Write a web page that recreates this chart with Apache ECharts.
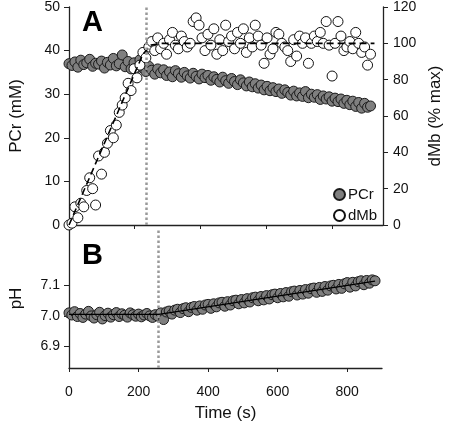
<!DOCTYPE html>
<html><head><meta charset="utf-8">
<script src="https://cdn.jsdelivr.net/npm/echarts@6/dist/echarts.min.js"></script>
<style>html,body{margin:0;padding:0;background:#fff}#c{width:455px;height:430px}</style>
</head><body><div id="c"></div>
<script>
// ---- Panel A data (time in s) ----
var topTime = [0,9,18,27,36,45,54,63,72,81,90,99,108,117,126,135,144,153,162,171,180,189,198,207,216,
225,234,243,252,261,270,279,288,297,306,315,324,333,342,351,360,369,378,387,396,405,414,423,432,441,
450,459,468,477,486,495,504,513,522,531,540,549,558,567,576,585,594,603,612,621,630,639,648,657,666,
675,684,693,702,711,720,729,738,747,756,765,774,783,792,801,810,819,828,837,846,855,864,873,882,891,
900,909,918];
var pcrValue = [37.0,36.6,37.4,36.2,37.8,36.8,37.2,38.0,36.4,37.1,36.9,37.6,36.0,37.3,36.7,38.2,36.5,37.0,39.0,36.3,37.5,35.8,37.2,36.1,37.9,
36.0,35.2,36.4,35.5,34.6,35.8,34.9,35.6,34.3,35.1,34.0,35.4,34.7,33.9,35.0,34.2,33.7,34.8,34.1,33.5,34.6,33.8,34.3,33.2,34.0,
33.4,32.8,33.9,33.1,32.5,33.6,32.9,32.2,33.3,32.6,31.9,32.8,31.7,32.4,31.4,32.1,31.0,31.8,30.8,31.5,30.6,31.2,30.2,31.0,30.4,
29.8,30.7,29.6,30.3,29.5,30.6,29.2,30.0,29.3,29.9,28.8,29.6,28.9,29.4,28.4,29.1,28.3,28.9,27.9,28.6,27.6,28.4,27.2,28.1,26.8,
27.9,27.0,27.3];
var dmbValue = [0,1,10,4,12,10,19,26,20,11,38,28,40,45,52,48,55,62,66,70,78,74,86,81,88,
95,92,98,101,96,103,97,100,94,102,106,99,97,104,101,98,100,112,114,110,103,96,105,99,108,
94,102,96,110,101,104,97,106,100,108,95,103,98,110,104,99,89,103,94,97,106,105,100,98,96,
90,102,93,104,100,103,89,100,104,101,106,100,112,99,82,100,112,104,96,98,101,97,106,100,95,
98,88,94];
var dmbFitTime = [0,225,250,280,930];
var dmbFitValue = [0,94,99,100,100];
var pcrFitTime = [0,225,400,600,800,918];
var pcrFitValue = [37,36.8,34.3,31.6,29,27.4];
var topMarker = 234;
var topTicks = [200,400,600,800];
// ---- Panel B data ----
var phTime = [0,8,16,24,32,40,48,56,64,72,80,88,96,104,112,120,128,136,144,152,160,168,176,184,192,200,208,216,224,232,240,248,256,
264,272,280,288,296,304,312,320,328,336,344,352,360,368,376,384,392,400,408,416,424,432,440,448,456,464,472,480,488,496,504,512,520,
528,536,544,552,560,568,576,584,592,600,608,616,624,632,640,648,656,664,672,680,688,696,704,712,720,728,736,744,752,760,768,776,784,
792,800,808,816,824,832,840,848,856,864,872,880];
var phValue = [7.010,7.003,7.014,6.998,7.008,6.995,7.006,7.015,7.000,6.993,7.004,7.012,6.990,7.001,7.009,6.996,7.004,7.011,6.998,7.007,7.002,6.996,7.010,7.004,6.999,7.006,6.997,7.003,7.008,7.000,6.995,7.004,6.999,
7.010,6.988,7.013,7.016,7.006,7.019,7.022,7.011,7.024,7.027,
7.014,7.028,7.031,7.019,7.033,7.022,7.036,7.038,7.025,7.040,
7.030,7.043,7.045,7.032,7.047,7.036,7.050,7.052,7.040,7.054,
7.043,7.057,7.046,7.060,7.062,7.050,7.064,7.053,7.067,7.056,
7.070,7.072,7.060,7.074,7.063,7.077,7.065,7.080,7.082,7.069,
7.084,7.072,7.087,7.075,7.090,7.092,7.078,7.094,7.081,7.097,
7.085,7.099,7.101,7.089,7.104,7.091,7.106,7.110,7.095,7.111,
7.099,7.113,7.116,7.103,7.117,7.108,7.119,7.116];
var phFitTime = [0,258,880];
var phFitValue = [7.005,7.005,7.115];
var bottomMarker = 258;
var phTicks = [6.9,7.0,7.1];

function pairs(xs, ys){ var o=[]; for(var i=0;i<xs.length&&i<ys.length;i++) o.push([xs[i],ys[i]]); return o; }

var FONT = 'Liberation Sans, Arial, sans-serif';
var axisLine = {show:true, lineStyle:{color:'#222', width:1.3}};
var lbl = {color:'#111', fontSize:14, fontFamily:FONT};
var nameStyle = {color:'#111', fontSize:17, fontFamily:FONT};

var chart = echarts.init(document.getElementById('c'), null, {renderer:'canvas'});
chart.setOption({
  animation:false,
  backgroundColor:'#fff',
  grid:[
    {left:69, right:72, top:6, height:219},
    {left:69, right:73, top:229, height:139}
  ],
  xAxis:[
    {gridIndex:0, type:'value', min:0, max:956, axisLine:axisLine,
     axisTick:{show:true, customValues:topTicks, length:4, lineStyle:{color:'#222'}},
     axisLabel:{show:false}, splitLine:{show:false}},
    {gridIndex:1, type:'value', min:0, max:900, interval:200, axisLine:axisLine,
     axisTick:{show:true, length:4, lineStyle:{color:'#222'}},
     axisLabel:Object.assign({margin:17, showMaxLabel:false}, lbl), splitLine:{show:false},
     name:'Time (s)', nameLocation:'middle', nameGap:37, nameTextStyle:nameStyle}
  ],
  yAxis:[
    {gridIndex:0, type:'value', min:0, max:50, interval:10, position:'left', axisLine:axisLine,
     axisTick:{show:true, length:5, lineStyle:{color:'#222'}},
     axisLabel:Object.assign({margin:9}, lbl), splitLine:{show:false},
     name:'PCr (mM)', nameLocation:'middle', nameGap:44, nameTextStyle:nameStyle},
    {gridIndex:0, type:'value', min:0, max:120, interval:20, position:'right', axisLine:axisLine,
     axisTick:{show:true, length:5, lineStyle:{color:'#222'}},
     axisLabel:Object.assign({margin:10}, lbl), splitLine:{show:false},
     name:'dMb (% max)', nameLocation:'middle', nameGap:44, nameRotate:90, nameTextStyle:nameStyle},
    {gridIndex:1, type:'value', min:6.828, max:7.287, position:'left', axisLine:axisLine,
     axisTick:{show:true, length:5, customValues:phTicks, lineStyle:{color:'#222'}},
     axisLabel:Object.assign({margin:9, customValues:phTicks, formatter:function(v){return v.toFixed(1);}}, lbl),
     splitLine:{show:false},
     name:'pH', nameLocation:'middle', nameGap:44, nameTextStyle:nameStyle}
  ],
  legend:{
    orient:'vertical', left:328, top:182, itemWidth:11, itemHeight:11, itemGap:6,
    data:['PCr','dMb'], textStyle:{fontSize:15, fontFamily:FONT, color:'#111', padding:[0,0,0,-2]},
    icon:'circle'
  },
  graphic:[
    {type:'text', left:82, top:8, style:{text:'A', fontSize:29, fontWeight:'bold', fontFamily:FONT, fill:'#000'}},
    {type:'text', left:82, top:241, style:{text:'B', fontSize:29, fontWeight:'bold', fontFamily:FONT, fill:'#000'}}
  ],
  series:[
    {type:'line', xAxisIndex:0, yAxisIndex:0, data:pairs(pcrFitTime,pcrFitValue), symbol:'none', silent:true,
     lineStyle:{color:'#000', width:1.3, type:[6,4]}, z:1,
     markLine:{silent:true, symbol:'none', label:{show:false},
       lineStyle:{color:'#999', width:2.5, type:[2.5,2.5]}, data:[{xAxis:topMarker}]}},
    {name:'PCr', type:'scatter', xAxisIndex:0, yAxisIndex:0, data:pairs(topTime,pcrValue), symbol:'circle', symbolSize:10,
     itemStyle:{color:'#7f7f7f', borderColor:'#1a1a1a', borderWidth:1, opacity:1}, z:2},
    {name:'dMb', type:'scatter', xAxisIndex:0, yAxisIndex:1, data:pairs(topTime,dmbValue), symbol:'circle', symbolSize:10,
     itemStyle:{color:'#fff', borderColor:'#111', borderWidth:1, opacity:1}, z:3},
    {type:'line', xAxisIndex:0, yAxisIndex:1, data:pairs(dmbFitTime,dmbFitValue), symbol:'none', silent:true,
     lineStyle:{color:'#000', width:1.6, type:[7,4]}, z:4},
    {type:'scatter', xAxisIndex:1, yAxisIndex:2, data:pairs(phTime,phValue), symbol:'circle', symbolSize:10,
     itemStyle:{color:'#7f7f7f', borderColor:'#1a1a1a', borderWidth:1, opacity:1}, z:2},
    {type:'line', xAxisIndex:1, yAxisIndex:2, data:pairs(phFitTime,phFitValue), symbol:'none', silent:true,
     lineStyle:{color:'#000', width:1.2}, z:3,
     markLine:{silent:true, symbol:'none', label:{show:false},
       lineStyle:{color:'#999', width:2.5, type:[2.5,2.5]}, data:[{xAxis:bottomMarker}]}}
  ]
});
</script></body></html>
